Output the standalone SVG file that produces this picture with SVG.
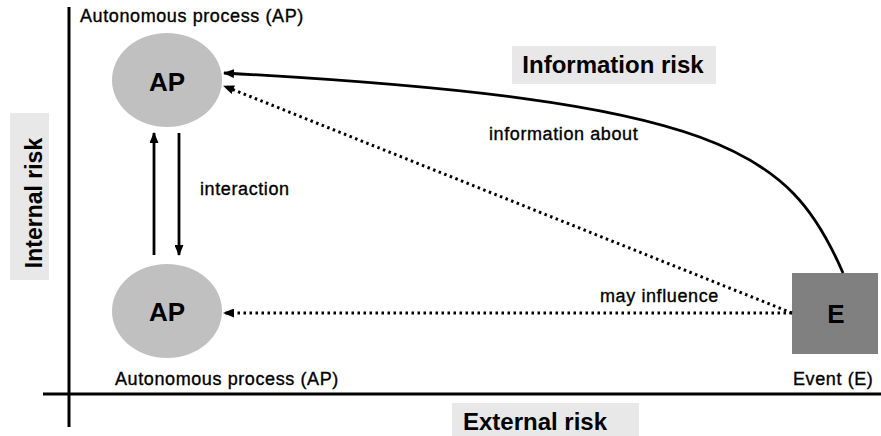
<svg xmlns="http://www.w3.org/2000/svg" width="881" height="436" viewBox="0 0 881 436">
<defs>
<marker id="ah" markerWidth="11" markerHeight="9" refX="10" refY="4.5" orient="auto" markerUnits="userSpaceOnUse">
<path d="M0,0 L11,4.5 L0,9 Z" fill="#000"/>
</marker>
<style>
text{font-family:"Liberation Sans",Arial,sans-serif;fill:#000}
.lbl{font-size:18px;letter-spacing:0.6px;stroke:#000;stroke-width:0.35}
.big{font-size:24px;font-weight:bold}
.ap{font-size:26px;font-weight:bold}
.box{fill:#e8e8e8}
.solid{stroke:#000;stroke-width:2.8;fill:none}
.dot{stroke:#000;stroke-width:3;fill:none;stroke-dasharray:2.5 3.5}
</style>
</defs>
<rect width="881" height="436" fill="#fff"/>
<g id="axes">
<line x1="69" y1="7" x2="69" y2="427" stroke="#000" stroke-width="3"/>
<line x1="43" y1="394" x2="881" y2="394" stroke="#000" stroke-width="3"/>
</g>
<g id="internal-risk">
<rect class="box" x="10" y="113" width="39" height="167"/>
<text class="big" transform="translate(42,203) rotate(-90)" text-anchor="middle" style="font-size:23px">Internal risk</text>
</g>
<g id="external-risk">
<rect class="box" x="452" y="403" width="187" height="33"/>
<text class="big" x="535" y="430" text-anchor="middle">External risk</text>
</g>
<g id="information-risk">
<rect class="box" x="512" y="46" width="204" height="38"/>
<text class="big" x="613" y="73" text-anchor="middle">Information risk</text>
</g>
<g id="ap-top">
<ellipse cx="167" cy="80" rx="55" ry="47" fill="#c0c0c0"/>
<text class="ap" x="167" y="91" text-anchor="middle">AP</text>
<text class="lbl" x="80" y="22">Autonomous process (AP)</text>
</g>
<g id="ap-bottom">
<ellipse cx="167" cy="311" rx="55" ry="47" fill="#c0c0c0"/>
<text class="ap" x="167" y="321" text-anchor="middle">AP</text>
<text class="lbl" x="115" y="385">Autonomous process (AP)</text>
</g>
<g id="event">
<rect x="792" y="273" width="86" height="81" fill="#808080"/>
<text class="ap" x="836" y="323" text-anchor="middle">E</text>
<text class="lbl" x="793" y="385">Event (E)</text>
</g>
<g id="connectors">
<line class="solid" x1="154" y1="255" x2="154" y2="133" marker-end="url(#ah)"/>
<line class="solid" x1="179" y1="133" x2="179" y2="255" marker-end="url(#ah)"/>
<path class="solid" d="M843,273 C790,150 720,100 224,73" marker-end="url(#ah)"/>
<line class="dot" x1="792" y1="313" x2="224" y2="86" marker-end="url(#ah)"/>
<line class="dot" x1="792" y1="313" x2="224" y2="313" marker-end="url(#ah)"/>
<text class="lbl" x="200" y="195">interaction</text>
<text class="lbl" x="489" y="140">information about</text>
<text class="lbl" x="600" y="302">may influence</text>
</g>
</svg>
